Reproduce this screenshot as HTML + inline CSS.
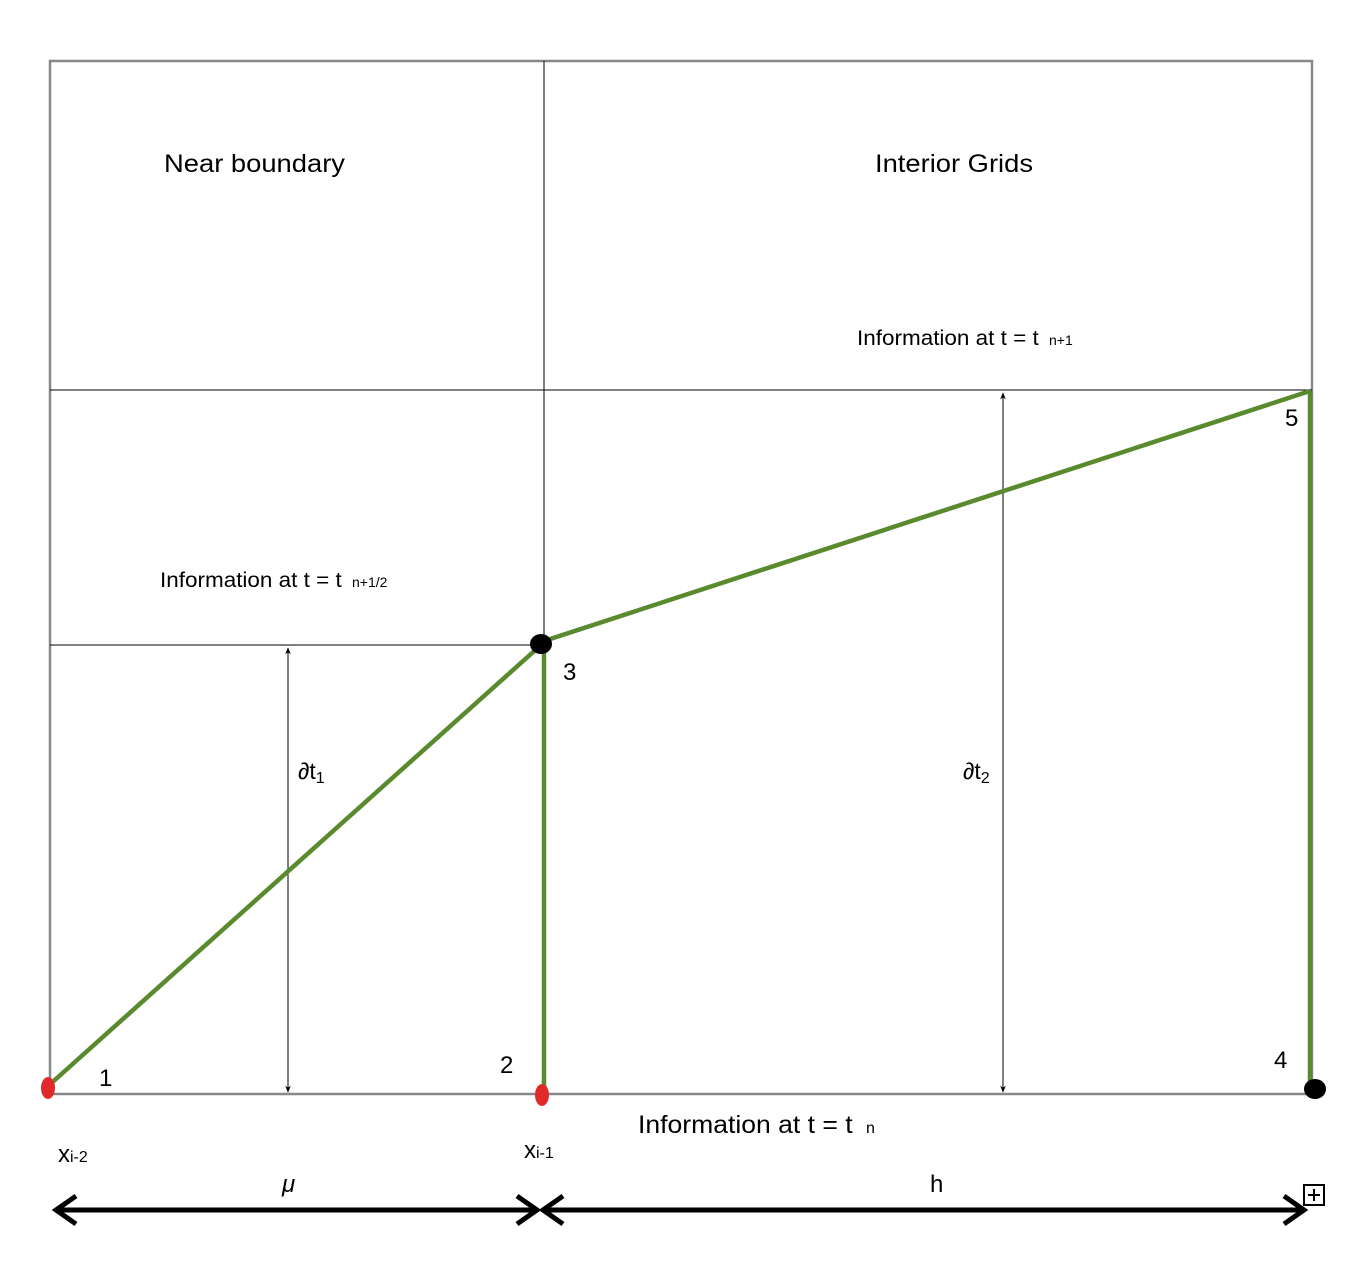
<!DOCTYPE html>
<html><head><meta charset="utf-8"><style>
html,body{margin:0;padding:0;background:#fff;}
svg{display:block;font-family:"Liberation Sans",Arial,sans-serif;}
</style></head><body>
<svg width="1366" height="1274" viewBox="0 0 1366 1274" xmlns="http://www.w3.org/2000/svg">
<defs>
<marker id="a" viewBox="0 0 10 10" refX="9" refY="5" markerWidth="7" markerHeight="7" orient="auto-start-reverse"><path d="M0,1 L10,5 L0,9 L3,5 z" fill="#000"/></marker>
</defs>
<rect x="50" y="61" width="1262" height="1033" fill="none" stroke="#86888a" stroke-width="2.5"/>
<line x1="544" y1="61" x2="544" y2="645" stroke="#000" stroke-width="1" shape-rendering="crispEdges"/>
<line x1="50" y1="390" x2="1312" y2="390" stroke="#000" stroke-width="1" shape-rendering="crispEdges"/>
<line x1="50" y1="645" x2="544" y2="645" stroke="#000" stroke-width="1" shape-rendering="crispEdges"/>
<line x1="288" y1="648" x2="288" y2="1092" stroke="#000" stroke-width="1" shape-rendering="crispEdges" marker-start="url(#a)" marker-end="url(#a)"/>
<line x1="1003" y1="393" x2="1003" y2="1092" stroke="#000" stroke-width="1" shape-rendering="crispEdges" marker-start="url(#a)" marker-end="url(#a)"/>
<g stroke="#5a8a2e" stroke-width="4.5" fill="none">
<line x1="47" y1="1087" x2="541" y2="645"/>
<line x1="544" y1="645" x2="544" y2="1094"/>
<line x1="541" y1="642" x2="1310" y2="391"/>
<line x1="1310" y1="391" x2="1310" y2="1090"/>
</g>
<ellipse cx="48" cy="1088" rx="7" ry="11" fill="#e02a2a"/>
<ellipse cx="542" cy="1095" rx="7" ry="11" fill="#e02a2a"/>
<ellipse cx="541" cy="644" rx="11" ry="10" fill="#000"/>
<ellipse cx="1315" cy="1089" rx="11" ry="10" fill="#000"/>
<g stroke="#000" stroke-width="5" fill="none">
<line x1="56" y1="1210" x2="537" y2="1210"/>
<polyline points="76,1196 56,1210 76,1224"/>
<polyline points="517,1196 537,1210 517,1224"/>
<line x1="543" y1="1210" x2="1304" y2="1210"/>
<polyline points="563,1196 543,1210 563,1224"/>
<polyline points="1284,1196 1304,1210 1284,1224"/>
</g>
<rect x="1304" y="1185" width="20" height="20" fill="#fff" stroke="#000" stroke-width="2"/>
<line x1="1308" y1="1195" x2="1320" y2="1195" stroke="#000" stroke-width="2"/>
<line x1="1314" y1="1189" x2="1314" y2="1201" stroke="#000" stroke-width="2"/>
<g fill="#000">
<text x="164" y="172" font-size="25" textLength="181" lengthAdjust="spacingAndGlyphs">Near boundary</text>
<text x="875" y="172" font-size="25" textLength="158" lengthAdjust="spacingAndGlyphs">Interior Grids</text>
<text x="857" y="345" font-size="21"><tspan textLength="188" lengthAdjust="spacingAndGlyphs">Information at t = t </tspan><tspan font-size="14" dx="4">n+1</tspan></text>
<text x="160" y="587" font-size="21"><tspan textLength="188" lengthAdjust="spacingAndGlyphs">Information at t = t </tspan><tspan font-size="14" dx="4">n+1/2</tspan></text>
<text x="638" y="1133" font-size="25"><tspan textLength="222" lengthAdjust="spacingAndGlyphs">Information at t = t </tspan><tspan font-size="16" dx="6">n</tspan></text>
<text x="298" y="779" font-size="23">∂t<tspan font-size="16" dy="4">1</tspan></text>
<text x="963" y="779" font-size="23">∂t<tspan font-size="16" dy="4">2</tspan></text>
<text x="99" y="1086" font-size="24">1</text>
<text x="500" y="1073" font-size="24">2</text>
<text x="563" y="680" font-size="24">3</text>
<text x="1274" y="1068" font-size="24">4</text>
<text x="1285" y="426" font-size="24">5</text>
<text x="58" y="1162" font-size="24">x<tspan font-size="16">i-2</tspan></text>
<text x="524" y="1158" font-size="24">x<tspan font-size="16">i-1</tspan></text>
<text x="282" y="1192" font-size="24" font-style="italic">μ</text>
<text x="930" y="1192" font-size="24">h</text>
</g>
</svg>
</body></html>
